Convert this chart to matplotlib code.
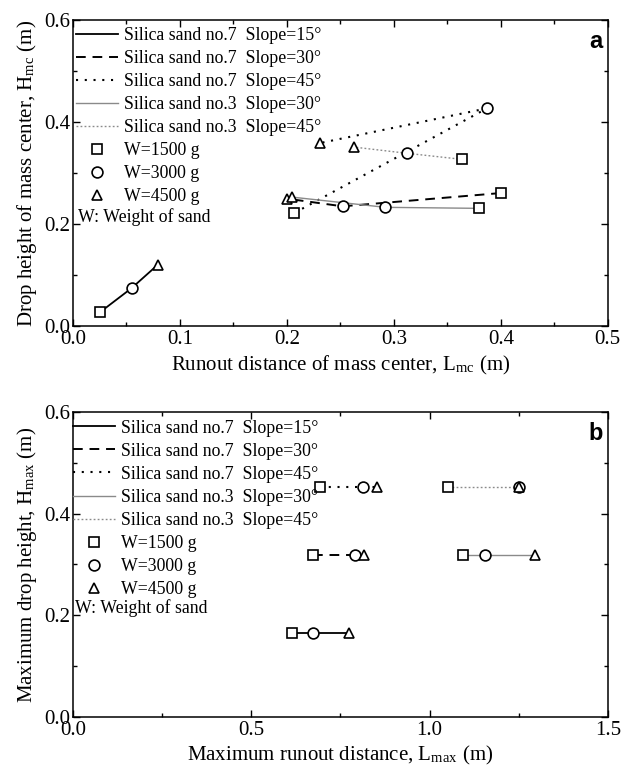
import matplotlib
matplotlib.use("Agg")
import matplotlib.pyplot as plt
from matplotlib.lines import Line2D
from matplotlib.ticker import MultipleLocator

plt.rcParams["font.family"] = ["Liberation Serif", "DejaVu Serif"]
plt.rcParams["mathtext.fontset"] = "stix"

# Weight order of the three points in each series
weights = ["W=1500 g", "W=3000 g", "W=4500 g"]
markers = ["s", "o", "^"]

series_names = [
    "Silica sand no.7  Slope=15\u00b0",
    "Silica sand no.7  Slope=30\u00b0",
    "Silica sand no.7  Slope=45\u00b0",
    "Silica sand no.3  Slope=30\u00b0",
    "Silica sand no.3  Slope=45\u00b0",
]

# (a) mass center: runout distance L_mc and drop height H_mc (m)
lmc_no7_15 = [0.025, 0.055, 0.079]
hmc_no7_15 = [0.027, 0.075, 0.120]
lmc_no7_30 = [0.400, 0.252, 0.200]
hmc_no7_30 = [0.261, 0.235, 0.250]
lmc_no7_45 = [0.207, 0.387, 0.231]
hmc_no7_45 = [0.222, 0.427, 0.359]
lmc_no3_30 = [0.380, 0.292, 0.205]
hmc_no3_30 = [0.231, 0.233, 0.253]
lmc_no3_45 = [0.364, 0.312, 0.263]
hmc_no3_45 = [0.327, 0.339, 0.351]

# (b) maximum runout distance L_max and maximum drop height H_max (m)
lmax_no7_15 = [0.614, 0.674, 0.774]
hmax_no7_15 = [0.165, 0.165, 0.165]
lmax_no7_30 = [0.673, 0.791, 0.816]
hmax_no7_30 = [0.319, 0.319, 0.319]
lmax_no7_45 = [0.692, 0.813, 0.852]
hmax_no7_45 = [0.453, 0.453, 0.453]
lmax_no3_30 = [1.093, 1.155, 1.295]
hmax_no3_30 = [0.319, 0.319, 0.319]
lmax_no3_45 = [1.051, 1.250, 1.250]
hmax_no3_45 = [0.453, 0.453, 0.453]

GRAY = "#8a8a8a"
line_styles = [
    dict(color="black", lw=1.3, ls="-"),
    dict(color="black", lw=1.4, ls=(0, (5, 3.5))),
    dict(color="black", lw=1.5, ls=(0, (1, 3.2))),
    dict(color=GRAY, lw=1.0, ls="-"),
    dict(color=GRAY, lw=1.0, ls=(0, (1.3, 1.6))),
]

MS = 7.8
MEW = 1.2
FS_LEG = 12.8
FS_AX = 15.0


def draw_panel(ax, xs_list, ys_list):
    for xs, ys, st in zip(xs_list, ys_list, line_styles):
        ax.plot(xs, ys, zorder=2, **st)
        for x, y, m in zip(xs, ys, markers):
            ax.plot([x], [y], marker=m, ms=MS, mew=MEW, mfc="white",
                    mec="black", ls="none", zorder=3)


def add_legend(ax, anchor):
    handles = [Line2D([], [], **st) for st in line_styles]
    handles += [Line2D([], [], marker=m, ms=MS, mew=MEW, mfc="white",
                       mec="black", ls="none") for m in markers]
    labels = series_names + weights
    ax.legend(handles, labels, loc="upper left", bbox_to_anchor=anchor,
              frameon=False, fontsize=FS_LEG, handlelength=2.35,
              handletextpad=0.35, labelspacing=0.34, borderpad=0.0,
              borderaxespad=0.0)


def style_axes(ax, xmaj, xmin_, xlim):
    ax.set_xlim(*xlim)
    ax.set_ylim(0, 0.6)
    ax.xaxis.set_major_locator(MultipleLocator(xmaj))
    ax.xaxis.set_minor_locator(MultipleLocator(xmin_))
    ax.yaxis.set_major_locator(MultipleLocator(0.2))
    ax.yaxis.set_minor_locator(MultipleLocator(0.1))
    ax.tick_params(which="both", direction="in", top=True, right=True,
                   labelsize=FS_AX, width=1.0)
    ax.tick_params(which="major", length=5)
    ax.tick_params(axis="x", which="major", pad=3)
    ax.tick_params(axis="y", which="major", pad=2)
    ax.tick_params(which="minor", length=3)
    for s in ax.spines.values():
        s.set_linewidth(1.1)


fig = plt.figure(figsize=(6.24, 7.73), dpi=100)
ax_a = fig.add_axes([0.117, 0.578, 0.857, 0.396])
ax_b = fig.add_axes([0.117, 0.0725, 0.857, 0.3945])

draw_panel(ax_a,
           [lmc_no7_15, lmc_no7_30, lmc_no7_45, lmc_no3_30, lmc_no3_45],
           [hmc_no7_15, hmc_no7_30, hmc_no7_45, hmc_no3_30, hmc_no3_45])
style_axes(ax_a, 0.1, 0.05, (0, 0.5))
add_legend(ax_a, (0.006, 0.978))
ax_a.text(0.01, 0.357, "W: Weight of sand", transform=ax_a.transAxes,
          fontsize=FS_LEG, ha="left", va="center")
ax_a.text(0.99, 0.93, "a", transform=ax_a.transAxes, fontsize=17,
          fontweight="bold", family="Liberation Sans", ha="right", va="center")
ax_a.set_xlabel("Runout distance of mass center, L$_\\mathregular{mc}$ (m)",
                fontsize=FS_AX, labelpad=3)
ax_a.set_ylabel("Drop height of mass center, H$_\\mathregular{mc}$ (m)",
                fontsize=FS_AX, labelpad=4)

draw_panel(ax_b,
           [lmax_no7_15, lmax_no7_30, lmax_no7_45, lmax_no3_30, lmax_no3_45],
           [hmax_no7_15, hmax_no7_30, hmax_no7_45, hmax_no3_30, hmax_no3_45])
style_axes(ax_b, 0.5, 0.25, (0, 1.5))
add_legend(ax_b, (0.0, 0.975))
ax_b.text(0.003, 0.357, "W: Weight of sand", transform=ax_b.transAxes,
          fontsize=FS_LEG, ha="left", va="center")
ax_b.text(0.99, 0.93, "b", transform=ax_b.transAxes, fontsize=17,
          fontweight="bold", family="Liberation Sans", ha="right", va="center")
ax_b.set_xlabel("Maximum runout distance, L$_\\mathregular{max}$ (m)",
                fontsize=FS_AX, labelpad=3)
ax_b.set_ylabel("Maximum drop height, H$_\\mathregular{max}$ (m)",
                fontsize=FS_AX, labelpad=4)

fig.savefig("out.png", dpi=100)
